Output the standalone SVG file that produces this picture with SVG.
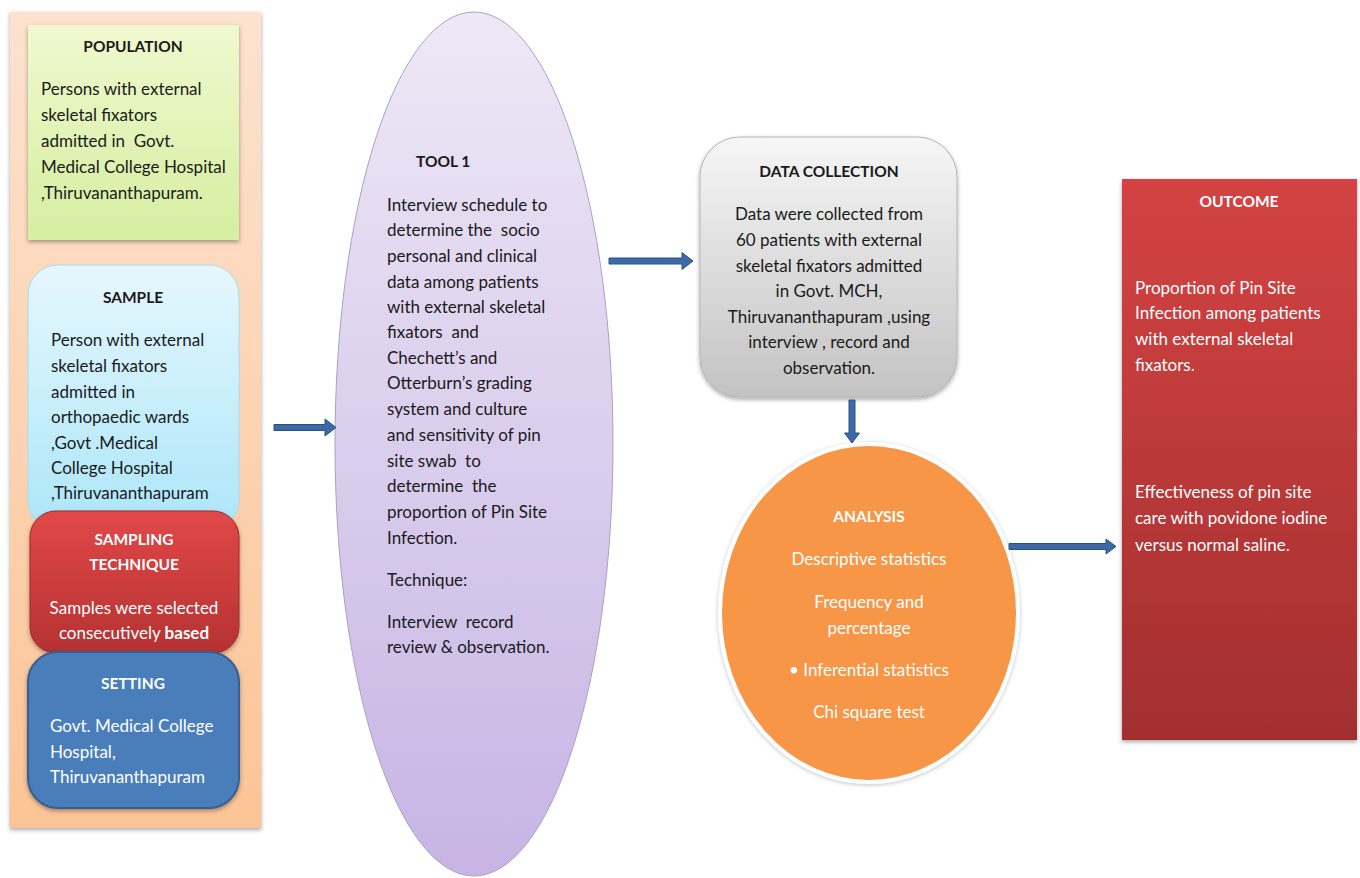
<svg xmlns="http://www.w3.org/2000/svg" width="1360" height="878" viewBox="0 0 1360 878">
<defs>
<linearGradient id="gPanel" x1="0" y1="0" x2="0" y2="1"><stop offset="0" stop-color="#fde2cf"/><stop offset="1" stop-color="#fbc496"/></linearGradient>
<linearGradient id="gPop" x1="0" y1="0" x2="0" y2="1"><stop offset="0" stop-color="#f0f9cf"/><stop offset="1" stop-color="#d5eea0"/></linearGradient>
<linearGradient id="gSample" x1="0" y1="0" x2="0" y2="1"><stop offset="0" stop-color="#e6f7fd"/><stop offset="1" stop-color="#ace6f9"/></linearGradient>
<linearGradient id="gSampling" x1="0" y1="0" x2="0" y2="1"><stop offset="0" stop-color="#e24848"/><stop offset="1" stop-color="#b53232"/></linearGradient>
<linearGradient id="gTool" x1="0" y1="0" x2="0" y2="1"><stop offset="0" stop-color="#eee8f6"/><stop offset="1" stop-color="#c7b4e4"/></linearGradient>
<linearGradient id="gData" x1="0" y1="0" x2="0" y2="1"><stop offset="0" stop-color="#f6f6f6"/><stop offset="1" stop-color="#c3c3c3"/></linearGradient>
<linearGradient id="gOut" x1="0" y1="0" x2="0" y2="1"><stop offset="0" stop-color="#d44343"/><stop offset="1" stop-color="#a32f2f"/></linearGradient>
<filter id="sh" x="-10%" y="-10%" width="120%" height="120%"><feDropShadow dx="0" dy="2" stdDeviation="2" flood-color="#000" flood-opacity="0.35"/></filter>
<filter id="glow" x="-10%" y="-10%" width="120%" height="120%"><feDropShadow dx="0" dy="1" stdDeviation="2" flood-color="#000" flood-opacity="0.25"/></filter>
</defs>
<style>
text{font-family:Lato,"Liberation Sans",sans-serif;font-size:17px;fill:#1a1a1a;white-space:pre}
.h{font-weight:bold;font-size:15.5px}
.w{fill:#ffffff}
.c{text-anchor:middle}
.arrow{fill:#3d6aa5;stroke:#2b5088;stroke-width:1}
</style>
<rect width="1360" height="878" fill="#ffffff"/>

<g id="left-panel">
<rect x="10" y="12" width="251" height="816" fill="url(#gPanel)" filter="url(#sh)"/>
</g>

<g id="population">
<rect x="28" y="25" width="211" height="215" fill="url(#gPop)" filter="url(#sh)"/>
<text class="h c" x="133" y="52">POPULATION</text>
<text x="41" y="95">Persons with external</text>
<text x="41" y="121">skeletal fixators</text>
<text x="41" y="147">admitted in  Govt.</text>
<text x="41" y="173">Medical College Hospital</text>
<text x="41" y="199">,Thiruvananthapuram.</text>
</g>

<g id="sample">
<rect x="28" y="265" width="211" height="265" rx="30" fill="url(#gSample)" stroke="#a8dcee" stroke-width="1"/>
<text class="h c" x="133" y="303">SAMPLE</text>
<text x="51" y="346">Person with external</text>
<text x="51" y="372">skeletal fixators</text>
<text x="51" y="398">admitted in</text>
<text x="51" y="423">orthopaedic wards</text>
<text x="51" y="449">,Govt .Medical</text>
<text x="51" y="474">College Hospital</text>
<text x="51" y="499">,Thiruvananthapuram</text>
</g>

<g id="sampling-technique">
<rect x="30" y="511" width="209" height="142" rx="26" fill="url(#gSampling)" stroke="#a02a2a" stroke-width="1" filter="url(#sh)"/>
<text class="h c w" x="134" y="545">SAMPLING</text>
<text class="h c w" x="134" y="570">TECHNIQUE</text>
<text class="c w" x="134" y="614">Samples were selected</text>
<text class="c w" x="134" y="639">consecutively <tspan font-weight="bold">based</tspan></text>
</g>

<g id="setting">
<rect x="28" y="652" width="211" height="156" rx="30" fill="#4a7ebb" stroke="#365f91" stroke-width="2" filter="url(#sh)"/>
<text class="h c w" x="133" y="689">SETTING</text>
<text class="w" x="50" y="732">Govt. Medical College</text>
<text class="w" x="50" y="758">Hospital,</text>
<text class="w" x="50" y="783">Thiruvananthapuram</text>
</g>

<g id="tool1">
<ellipse cx="474" cy="444" rx="139" ry="432" fill="url(#gTool)" stroke="#ada0c4" stroke-width="1"/>
<text class="h" x="416" y="167">TOOL 1</text>
<text x="387" y="211">Interview schedule to</text>
<text x="387" y="236">determine the  socio</text>
<text x="387" y="262">personal and clinical</text>
<text x="387" y="288">data among patients</text>
<text x="387" y="313">with external skeletal</text>
<text x="387" y="338">fixators  and</text>
<text x="387" y="364">Chechett’s and</text>
<text x="387" y="389">Otterburn’s grading</text>
<text x="387" y="415">system and culture</text>
<text x="387" y="441">and sensitivity of pin</text>
<text x="387" y="467">site swab  to</text>
<text x="387" y="492">determine  the</text>
<text x="387" y="518">proportion of Pin Site</text>
<text x="387" y="544">Infection.</text>
<text x="387" y="586">Technique:</text>
<text x="387" y="628">Interview  record</text>
<text x="387" y="653">review &amp; observation.</text>
</g>

<g id="data-collection">
<rect x="700" y="137" width="257" height="260" rx="40" fill="url(#gData)" stroke="#b5b5b5" stroke-width="1" filter="url(#sh)"/>
<text class="h c" x="829" y="177">DATA COLLECTION</text>
<text class="c" x="829" y="220">Data were collected from</text>
<text class="c" x="829" y="246">60 patients with external</text>
<text class="c" x="829" y="272">skeletal fixators admitted</text>
<text class="c" x="829" y="297">in Govt. MCH,</text>
<text class="c" x="829" y="323">Thiruvananthapuram ,using</text>
<text class="c" x="829" y="348">interview , record and</text>
<text class="c" x="829" y="374">observation.</text>
</g>

<g id="analysis">
<ellipse cx="869" cy="613" rx="149" ry="169" fill="#f79646" stroke="#ffffff" stroke-width="4" filter="url(#glow)"/>
<text class="h c w" x="869" y="522">ANALYSIS</text>
<text class="c w" x="869" y="565">Descriptive statistics</text>
<text class="c w" x="869" y="608">Frequency and</text>
<text class="c w" x="869" y="634">percentage</text>
<text class="c w" x="869" y="676">• Inferential statistics</text>
<text class="c w" x="869" y="718">Chi square test</text>
</g>

<g id="outcome">
<rect x="1122" y="179" width="235" height="561" fill="url(#gOut)" filter="url(#sh)"/>
<text class="h c w" x="1239" y="207">OUTCOME</text>
<text class="w" x="1135" y="294">Proportion of Pin Site</text>
<text class="w" x="1135" y="319">Infection among patients</text>
<text class="w" x="1135" y="345">with external skeletal</text>
<text class="w" x="1135" y="371">fixators.</text>
<text class="w" x="1135" y="498">Effectiveness of pin site</text>
<text class="w" x="1135" y="524">care with povidone iodine</text>
<text class="w" x="1135" y="551">versus normal saline.</text>
</g>

<g id="connectors">
<path class="arrow" d="M274 424.5 H325 V419 L336 427.5 L325 436 V430.5 H274 Z"/>
<path class="arrow" d="M609 258 H682 V252.5 L693 261 L682 269.5 V264 H609 Z"/>
<path class="arrow" d="M849 400 V433 H844.5 L852 443 L859.5 433 H855 V400 Z"/>
<path class="arrow" d="M1009 543.5 H1106 V539 L1116 546.5 L1106 554 V549.5 H1009 Z"/>
</g>
</svg>
